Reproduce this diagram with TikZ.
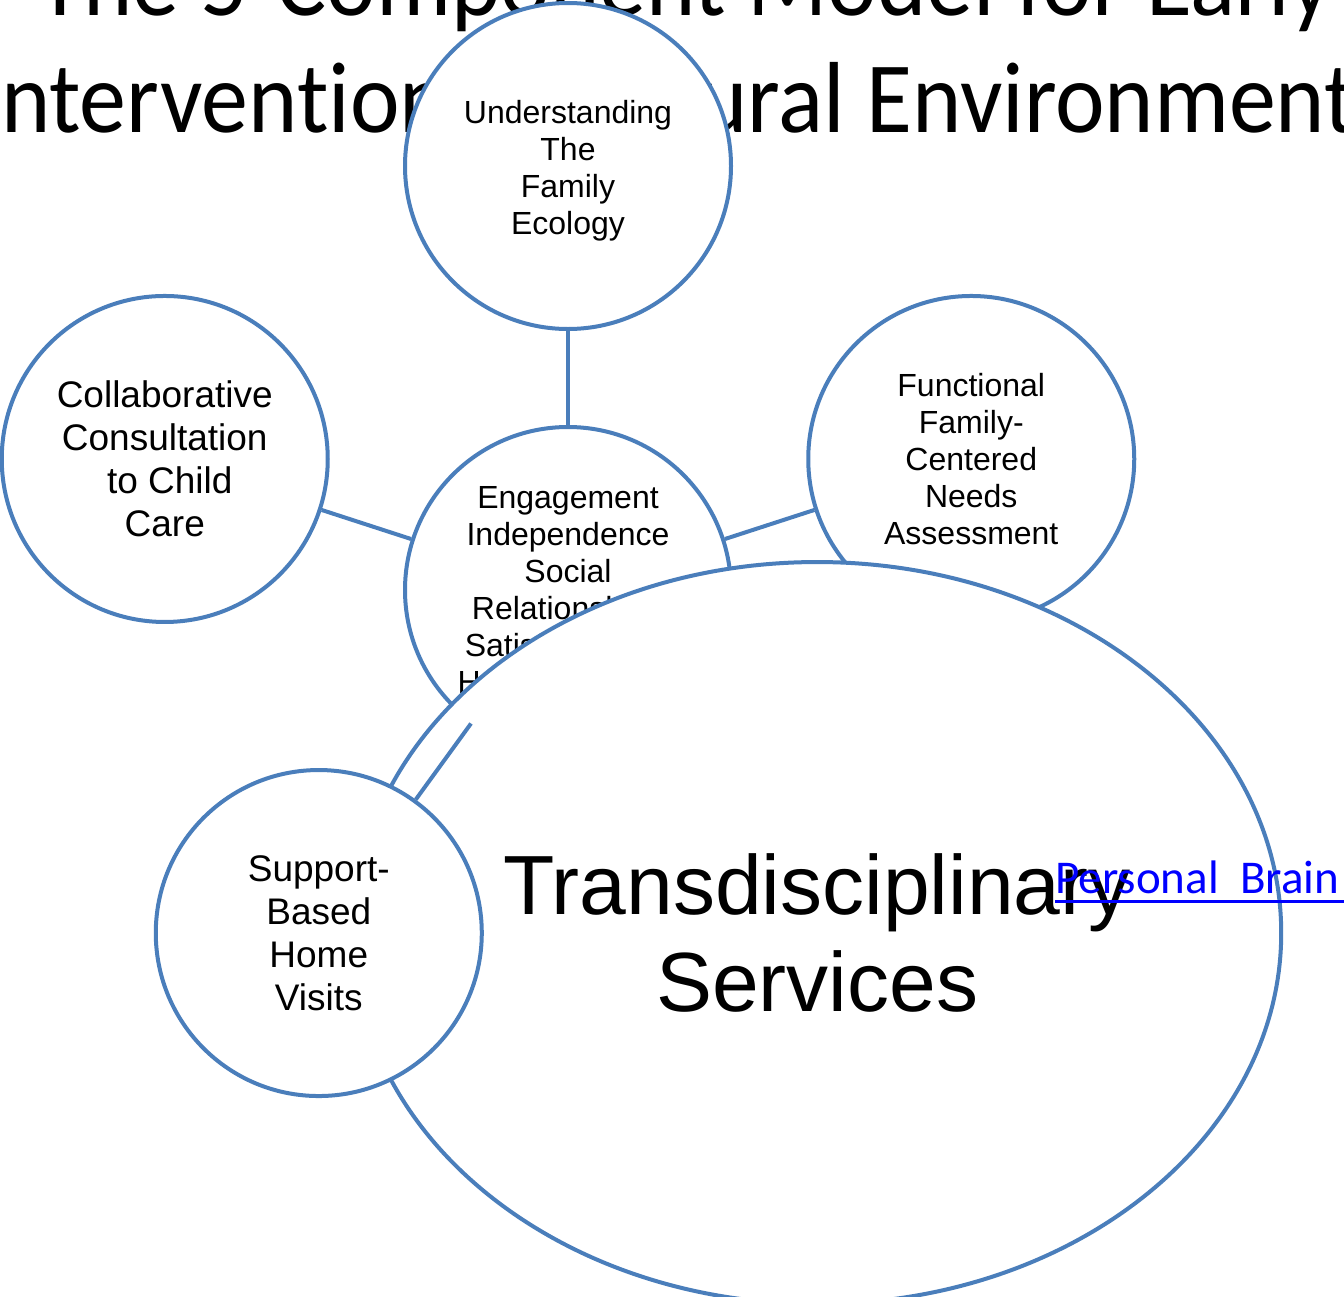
\documentclass[tikz,border=0pt]{standalone}
\usepackage{fontspec}
\setmainfont{Liberation Sans}
\newfontfamily\titlefont[Ligatures=NoCommon]{Carlito}
\usepackage{tikz}
\usetikzlibrary{shapes.geometric,calc}
\definecolor{ringblue}{RGB}{74,126,187}
\definecolor{linkblue}{RGB}{0,0,255}
\tikzstyle{stage} = [circle, minimum size=163pt, inner sep=0pt, align=center, draw=ringblue, line width=2pt, fill=white, font=\fontsize{16pt}{18.5pt}\selectfont]
\tikzstyle{bigstage} = [stage, font=\fontsize{18.5pt}{21.5pt}\selectfont]
\tikzstyle{hub} = [ellipse, minimum width=464pt, minimum height=371pt, inner sep=0pt, align=center, draw=ringblue, line width=2pt, fill=white, font=\fontsize{42pt}{48.5pt}\selectfont]
\tikzstyle{heading} = [anchor=base, inner sep=0pt, font=\titlefont\fontsize{50.5pt}{58.5pt}\selectfont]
\tikzstyle{weblink} = [anchor=base west, inner sep=0pt, text=linkblue, font=\titlefont\fontsize{23.5pt}{28pt}\selectfont]
\tikzstyle{spoke} = [draw=ringblue, line width=2pt]

\begin{document}
\begin{tikzpicture}[x=0.5pt, y=-0.5pt, node distance=212pt]
	\useasboundingbox (0,0) rectangle (1344,1296);
		% title sits behind the circles
		\node (title1) [heading] at (685,15) {\scalebox{0.93}[1]{The 5-Component Model for Early}};
		\node (title2) [heading] at (685,132) {\scalebox{0.93}[1]{Intervention in Natural Environments}};

		\node (engage) [stage] at (568,590) {Engagement\\Independence\\Social\\Relationships\\Satisfaction w/\\Home Routines};
		\node (family) [stage, above of=engage] {\rule{0pt}{16.5pt}Understanding\\The\\Family\\Ecology};
		\node (consult) [bigstage] at ($(engage)+(162:212pt)$) {Collaborative\\Consultation\\\hspace*{5pt}to Child\\Care};
		\node (needs) [stage] at ($(engage)+(18:212pt)$) {Functional\\Family-\\Centered\\Needs\\Assessment};

		\draw [spoke] (engage) -- (family);
		\draw [spoke] (engage) -- (consult);
		\draw [spoke] (engage) -- (needs);

		\node (transd) [hub] at ($(engage)+(306:212pt)$) {Transdisciplinary\\Services};
		\node (visits) [bigstage] at ($(engage)+(234:212pt)$) {Support-\\Based\\Home\\Visits};
		\draw [spoke] (engage) -- (visits);

		\node (brain) [weblink] at (1055,893) {Personal\ \ Brain};
		\draw [linkblue, line width=1.5pt] ([yshift=-4pt]brain.base west) -- ([xshift=10pt,yshift=-4pt]brain.base east);
	\end{tikzpicture}
\end{document}
